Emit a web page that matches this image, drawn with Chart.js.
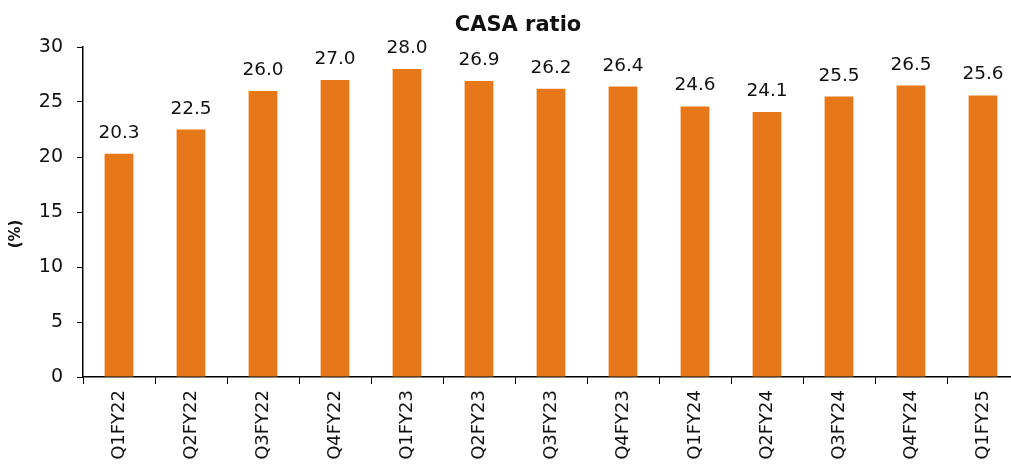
<!DOCTYPE html>
<html>
<head>
<meta charset="utf-8">
<script src="https://cdn.jsdelivr.net/npm/chart.js@4/dist/chart.umd.min.js"></script>
<style>
  html, body { margin: 0; padding: 0; background: #fff; overflow: hidden; }
  #wrap { width: 1048px; height: 500px; }
</style>
</head>
<body>
<div id="wrap"><canvas id="c" width="1048" height="500"></canvas></div>
<script>
// Quarterly CASA ratio (%)
const quarters = ['Q1FY22','Q2FY22','Q3FY22','Q4FY22','Q1FY23','Q2FY23','Q3FY23','Q4FY23','Q1FY24','Q2FY24','Q3FY24','Q4FY24','Q1FY25'];
const casaRatio = [20.3, 22.5, 26.0, 27.0, 28.0, 26.9, 26.2, 26.4, 24.6, 24.1, 25.5, 26.5, 25.6];
const yTicks = [0, 5, 10, 15, 20, 25, 30];
const chartTitle = 'CASA ratio';
const yAxisTitle = '(%)';

const FONT = "'DejaVu Sans', 'Noto Sans', sans-serif";

// Writes each bar's value above it
const valueLabels = {
  id: 'valueLabels',
  afterDatasetsDraw(chart) {
    const ctx = chart.ctx;
    const meta = chart.getDatasetMeta(0);
    ctx.save();
    ctx.font = '18.5px ' + FONT;
    ctx.fillStyle = '#111';
    ctx.textAlign = 'center';
    ctx.textBaseline = 'alphabetic';
    meta.data.forEach((bar, i) => {
      ctx.fillText(casaRatio[i].toFixed(1), bar.x, bar.y - 16);
    });
    ctx.restore();
  }
};

// Heading centred over the whole figure, plus the unit label beside the value axis
const headings = {
  id: 'headings',
  afterDraw(chart) {
    const ctx = chart.ctx;
    ctx.save();
    ctx.fillStyle = '#111';
    ctx.textAlign = 'center';
    ctx.textBaseline = 'alphabetic';
    ctx.font = 'bold 21px ' + FONT;
    ctx.fillText(chartTitle, 518, 31);

    ctx.font = 'bold 15px ' + FONT;
    ctx.textBaseline = 'middle';
    ctx.translate(16, 234);
    ctx.rotate(-Math.PI / 2);
    ctx.fillText(yAxisTitle, 0, 0);
    ctx.restore();
  }
};

new Chart(document.getElementById('c'), {
  type: 'bar',
  data: {
    labels: quarters,
    datasets: [{
      data: casaRatio,
      backgroundColor: '#E67819',
      borderWidth: 0,
      barPercentage: 0.4,
      categoryPercentage: 1.0
    }]
  },
  options: {
    responsive: false,
    animation: false,
    devicePixelRatio: 1,
    layout: { padding: { left: 0, right: 29, top: 47, bottom: 0 } },
    plugins: {
      legend: { display: false },
      tooltip: { enabled: false },
      title: { display: false }
    },
    scales: {
      x: {
        afterFit(scale) { scale.height = 500 - 377; },
        grid: {
          display: true,
          drawOnChartArea: false,
          drawTicks: true,
          tickLength: 7,
          color: '#000',
          offset: true
        },
        border: { display: true, color: '#000', width: 1.5 },
        ticks: {
          color: '#111',
          font: { family: FONT, size: 18 },
          minRotation: 90,
          maxRotation: 90,
          padding: 6,
          autoSkip: false
        }
      },
      y: {
        min: 0,
        max: 30,
        afterFit(scale) { scale.width = 83; },
        afterBuildTicks(scale) { scale.ticks = yTicks.map(v => ({ value: v })); },
        grid: {
          display: true,
          drawOnChartArea: false,
          drawTicks: true,
          tickLength: 6,
          color: '#000'
        },
        border: { display: true, color: '#000', width: 1.5 },
        ticks: {
          color: '#111',
          font: { family: FONT, size: 19 },
          padding: 14
        }
      }
    }
  },
  plugins: [valueLabels, headings]
});
</script>
</body>
</html>
